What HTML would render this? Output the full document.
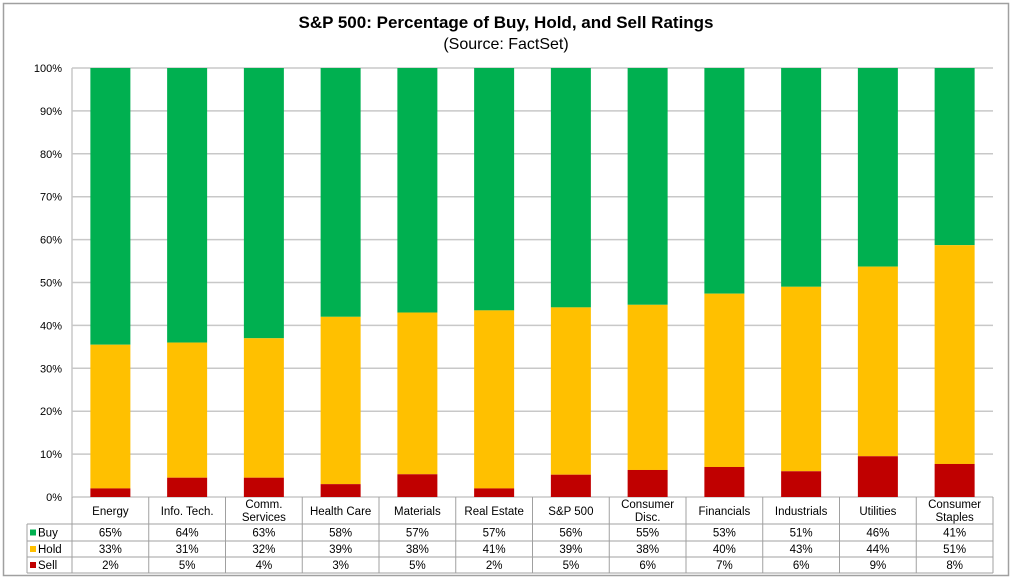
<!DOCTYPE html>
<html><head><meta charset="utf-8"><style>
body{margin:0;background:#fff;font-family:"Liberation Sans",Arial,sans-serif}
</style></head><body>
<svg id="c" width="1013" height="580" xmlns="http://www.w3.org/2000/svg" font-family="Liberation Sans, Arial, sans-serif">
<rect x="3.5" y="3.5" width="1005" height="572" fill="#fff" stroke="#a0a0a0" stroke-width="1.5"/>
<text x="506" y="28" text-anchor="middle" font-size="17" font-weight="bold" fill="#000">S&amp;P 500: Percentage of Buy, Hold, and Sell Ratings</text>
<text x="506" y="49" text-anchor="middle" font-size="16" fill="#000">(Source: FactSet)</text>
<g id="grid"></g><g id="bars"></g><g id="table"></g>
</svg>
<script>
const categories=[["Energy"],["Info. Tech."],["Comm.","Services"],["Health Care"],["Materials"],["Real Estate"],["S&P 500"],["Consumer","Disc."],["Financials"],["Industrials"],["Utilities"],["Consumer","Staples"]];
const sellValues=[2,4.5,4.5,3,5.3,2,5.2,6.3,7,6,9.5,7.7];
const holdValues=[33.5,31.5,32.5,39,37.7,41.5,39,38.5,40.4,43,44.2,51];
const buyLabels=["65%","64%","63%","58%","57%","57%","56%","55%","53%","51%","46%","41%"];
const holdLabels=["33%","31%","32%","39%","38%","41%","39%","38%","40%","43%","44%","51%"];
const sellLabels=["2%","5%","4%","3%","5%","2%","5%","6%","7%","6%","9%","8%"];
const yTicks=[0,10,20,30,40,50,60,70,80,90,100];
const NS="http://www.w3.org/2000/svg";
const L=72,R=993,T=68,B=497,bw=(R-L)/12;
const y=v=>B-(v/100)*(B-T);
const xc=i=>L+bw*(i+0.5);
function mk(p,t,a){const e=document.createElementNS(NS,t);for(const k in a)e.setAttribute(k,a[k]);p.appendChild(e);return e;}
const grid=document.getElementById('grid'),bars=document.getElementById('bars'),tbl=document.getElementById('table');
yTicks.forEach(v=>{
 const l=mk(grid,'line',{x1:L,x2:R,y1:y(v),y2:y(v),stroke:'#c8c8c8','stroke-width':1.5});
 
 
 const t=mk(grid,'text',{x:62,y:y(v)+4,'text-anchor':'end','font-size':11,fill:'#000'});
 t.textContent=v+'%';
 
 
});
const ax=mk(grid,'line',{x1:L,x2:L,y1:T,y2:B,stroke:'#c8c8c8','stroke-width':1.5});


categories.forEach((c,i)=>{
 const s=sellValues[i],h=holdValues[i],x0=xc(i)-20;
 const rb=mk(bars,'rect',{x:x0,y:y(100),width:40,height:y(s+h)-y(100),fill:'#00b050'});
 
 
 const rh=mk(bars,'rect',{x:x0,y:y(s+h),width:40,height:y(s)-y(s+h),fill:'#ffc000'});
 
 
 const rs=mk(bars,'rect',{x:x0,y:y(s),width:40,height:y(0)-y(s),fill:'#c00000'});
 
 
});
// table
const rowsY=[497,524,541,557,573];
const ln=(x1,y1,x2,y2)=>{const e=mk(tbl,'line',{x1,y1,x2,y2,stroke:'#a0a0a0','stroke-width':1});};
ln(L,497,L,573);ln(27,524,27,573);
rowsY.slice(1).forEach(yy=>ln(27,yy,R,yy));
for(let i=1;i<=12;i++)ln(L+bw*i,497,L+bw*i,573);
categories.forEach((c,i)=>{
 c.forEach((w,j)=>{
  const t=mk(tbl,'text',{x:xc(i),y:(c.length==1?515:508)+j*13,'text-anchor':'middle','font-size':11.5,fill:'#000'});
  t.textContent=w;
  
  
 });
});
const series=[["Buy","#00b050",buyLabels],["Hold","#ffc000",holdLabels],["Sell","#c00000",sellLabels]];
series.forEach((s,r)=>{
 const cy=(rowsY[r+1]+rowsY[r+2])/2;
 const k=mk(tbl,'rect',{x:30,y:cy-3,width:6,height:6,fill:s[1]});
 
 
 const lt=mk(tbl,'text',{x:38,y:cy+4,'font-size':11.5,fill:'#000'});
 lt.textContent=s[0];
 
 
 s[2].forEach((v,i)=>{
  const t=mk(tbl,'text',{x:xc(i),y:cy+4,'text-anchor':'middle','font-size':11.5,fill:'#000'});
  t.textContent=v;
  
  
 });
});
</script>
</body></html>
